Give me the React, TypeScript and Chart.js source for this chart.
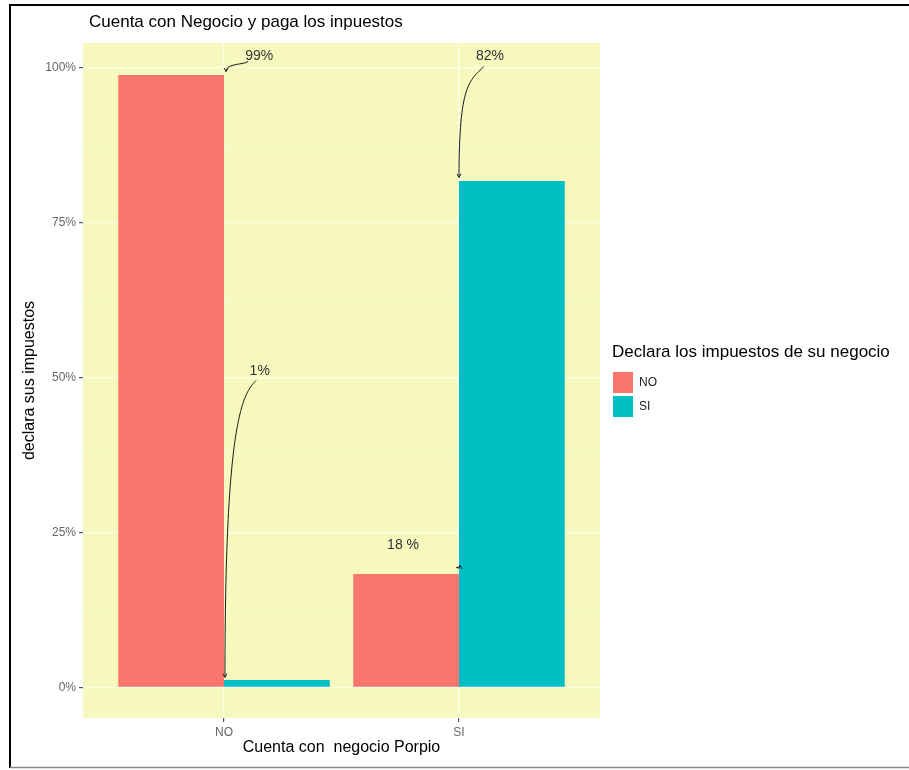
import React, { useEffect, useRef } from 'react';
import { Chart, registerables } from 'chart.js';

Chart.register(...registerables);

// ---- data ----
const categories = ['NO', 'SI'];
const seriesLabels = ['NO', 'SI'];
const seriesNO = [98.8, 18.3];
const seriesSI = [1.2, 81.7];
const seriesColors = ['#F8766D', '#00BFC4'];
const yMajorTicks = [0, 25, 50, 75, 100];
const yMinorTicks = [12.5, 37.5, 62.5, 87.5];

const annotationTexts = ['99%', '1%', '18 %', '82%'];
const annotationTextX = [1.15, 1.152, 1.762, 2.132];
const annotationTextY = [101.8, 51.0, 22.9, 101.8];
const arrowStartX = [1.102, 1.136, 1.987, 2.106];
const arrowStartY = [100.97, 49.5, 19.35, 100.16];
const arrowEndX = [1.0085, 1.004, 2.004, 2.0];
const arrowEndY = [99.35, 1.61, 19.68, 82.26];

const TITLE = 'Cuenta con Negocio y paga los inpuestos';
const X_TITLE = 'Cuenta con  negocio Porpio';
const Y_TITLE = 'declara sus impuestos';
const LEGEND_TITLE = 'Declara los impuestos de su negocio';

const PANEL = '#F6F8BE';
const FONT = '"Liberation Sans", Arial, sans-serif';

const decorPlugin = {
  id: 'decor',
  beforeDraw(chart: any) {
    const { ctx, chartArea: a, width, height } = chart;
    ctx.save();
    ctx.fillStyle = '#ffffff';
    ctx.fillRect(0, 0, width, height);
    ctx.fillStyle = PANEL;
    ctx.fillRect(a.left, a.top, a.right - a.left, a.bottom - a.top);
    ctx.restore();
  },
  afterDatasetsDraw(chart: any) {
    const { ctx } = chart;
    const xs = chart.scales.x;
    const ys = chart.scales.y;
    ctx.save();
    ctx.font = `14px ${FONT}`;
    ctx.fillStyle = '#333333';
    ctx.textAlign = 'center';
    ctx.textBaseline = 'middle';
    annotationTexts.forEach((t, i) => {
      ctx.fillText(t, xs.getPixelForValue(annotationTextX[i]), ys.getPixelForValue(annotationTextY[i]));
    });
    ctx.strokeStyle = '#1a1a1a';
    ctx.lineWidth = 1;
    annotationTexts.forEach((_, i) => {
      const sx = xs.getPixelForValue(arrowStartX[i]);
      const sy = ys.getPixelForValue(arrowStartY[i]);
      const ex = xs.getPixelForValue(arrowEndX[i]);
      const ey = ys.getPixelForValue(arrowEndY[i]);
      const dist = Math.hypot(ex - sx, ey - sy);
      const k = Math.min(dist * 0.2, 20);
      const dirx = ex < sx ? -0.707 : 0.707;
      const c1x = sx + dirx * k;
      const c1y = sy + 0.707 * k;
      const c2x = ex;
      const c2y = sy + (ey - sy) * 0.15;
      ctx.beginPath();
      ctx.moveTo(sx, sy);
      ctx.bezierCurveTo(c1x, c1y, c2x, c2y, ex, ey);
      ctx.stroke();
      let tx = ex - c2x;
      let ty = ey - c2y;
      const len = Math.hypot(tx, ty) || 1;
      tx /= len;
      ty /= len;
      const ang = Math.atan2(ty, tx);
      const h = 4;
      ctx.beginPath();
      ctx.moveTo(ex - h * Math.cos(ang - 0.5), ey - h * Math.sin(ang - 0.5));
      ctx.lineTo(ex, ey);
      ctx.lineTo(ex - h * Math.cos(ang + 0.5), ey - h * Math.sin(ang + 0.5));
      ctx.stroke();
    });
    ctx.restore();
  },
  afterDraw(chart: any) {
    const { ctx } = chart;
    ctx.save();
    // title
    ctx.font = `17px ${FONT}`;
    ctx.fillStyle = '#000';
    ctx.textAlign = 'left';
    ctx.textBaseline = 'middle';
    ctx.fillText(TITLE, 89, 22);
    // legend
    ctx.font = `17px ${FONT}`;
    ctx.fillText(LEGEND_TITLE, 612, 352);
    seriesLabels.forEach((lab, i) => {
      const top = 372 + i * 24;
      ctx.fillStyle = seriesColors[i];
      ctx.fillRect(613, top, 20, 21);
      ctx.fillStyle = '#222';
      ctx.font = `12px ${FONT}`;
      ctx.fillText(lab, 639, top + 11);
    });
    // frame
    ctx.strokeStyle = '#000';
    ctx.lineWidth = 2;
    ctx.beginPath();
    ctx.moveTo(909, 5);
    ctx.lineTo(10, 5);
    ctx.lineTo(10, 768);
    ctx.stroke();
    ctx.strokeStyle = '#888';
    ctx.lineWidth = 1.5;
    ctx.beginPath();
    ctx.moveTo(10, 767.5);
    ctx.lineTo(909, 767.5);
    ctx.stroke();
    ctx.restore();
  },
};

export default function App() {
  const ref = useRef<HTMLCanvasElement | null>(null);
  useEffect(() => {
    if (!ref.current) return;
    const isMajor = (v: number) => yMajorTicks.includes(v);
    const chart = new Chart(ref.current, {
      type: 'bar',
      data: {
        datasets: [
          {
            label: seriesLabels[0],
            data: categories.map((_, i) => ({ x: i + 1, y: seriesNO[i] })),
            backgroundColor: seriesColors[0],
            categoryPercentage: 0.9,
            barPercentage: 1.0,
          },
          {
            label: seriesLabels[1],
            data: categories.map((_, i) => ({ x: i + 1, y: seriesSI[i] })),
            backgroundColor: seriesColors[1],
            categoryPercentage: 0.9,
            barPercentage: 1.0,
          },
        ],
      },
      options: {
        animation: false,
        responsive: false,
        maintainAspectRatio: false,
        layout: { padding: { left: 10, top: 43, right: 309, bottom: 0 } },
        plugins: {
          legend: { display: false },
          title: { display: false },
          tooltip: { enabled: false },
        },
        scales: {
          x: {
            type: 'linear',
            min: 0.4,
            max: 2.6,
            offset: false,
            afterBuildTicks: (s: any) => {
              s.ticks = categories.map((_, i) => ({ value: i + 1 }));
            },
            afterFit: (s: any) => {
              s.height = 52;
            },
            ticks: {
              autoSkip: false,
              maxRotation: 0,
              padding: 3,
              color: '#666',
              font: { size: 12, family: FONT },
              callback: (v: any) => categories[Math.round(Number(v)) - 1] ?? '',
            },
            grid: {
              offset: false,
              color: 'rgba(255,255,255,0.75)',
              lineWidth: 1.2,
              tickLength: 4,
              tickColor: '#555',
            },
            border: { display: false },
            title: {
              display: true,
              text: X_TITLE,
              color: '#000',
              font: { size: 16, family: FONT },
              padding: { top: 0, bottom: 12.4 },
            },
          },
          y: {
            type: 'linear',
            min: -4.95,
            max: 103.95,
            afterBuildTicks: (s: any) => {
              s.ticks = [...yMajorTicks, ...yMinorTicks].sort((a, b) => a - b).map((v) => ({ value: v }));
            },
            afterFit: (s: any) => {
              s.width = 73;
            },
            ticks: {
              autoSkip: false,
              padding: 3,
              color: '#666',
              font: { size: 12, family: FONT },
              callback: (v: any) => (isMajor(Number(v)) ? `${v}%` : ''),
            },
            grid: {
              color: (c: any) => (c.tick && isMajor(c.tick.value) ? 'rgba(255,255,255,0.75)' : 'rgba(255,255,255,0.45)'),
              lineWidth: (c: any) => (c.tick && isMajor(c.tick.value) ? 1.2 : 0.6),
              tickLength: 4,
              tickColor: (c: any) => (c.tick && isMajor(c.tick.value) ? '#555' : 'rgba(0,0,0,0)'),
            },
            border: { display: false },
            title: {
              display: true,
              text: Y_TITLE,
              color: '#000',
              font: { size: 16, family: FONT },
              padding: { top: 10, bottom: 0 },
            },
          },
        },
      },
      plugins: [decorPlugin],
    } as any);
    return () => chart.destroy();
  }, []);
  return (
    <div style={{ position: 'absolute', left: 0, top: 0, width: 909, height: 770 }}>
      <canvas ref={ref} width={909} height={770} style={{ width: 909, height: 770 }} />
    </div>
  );
}
